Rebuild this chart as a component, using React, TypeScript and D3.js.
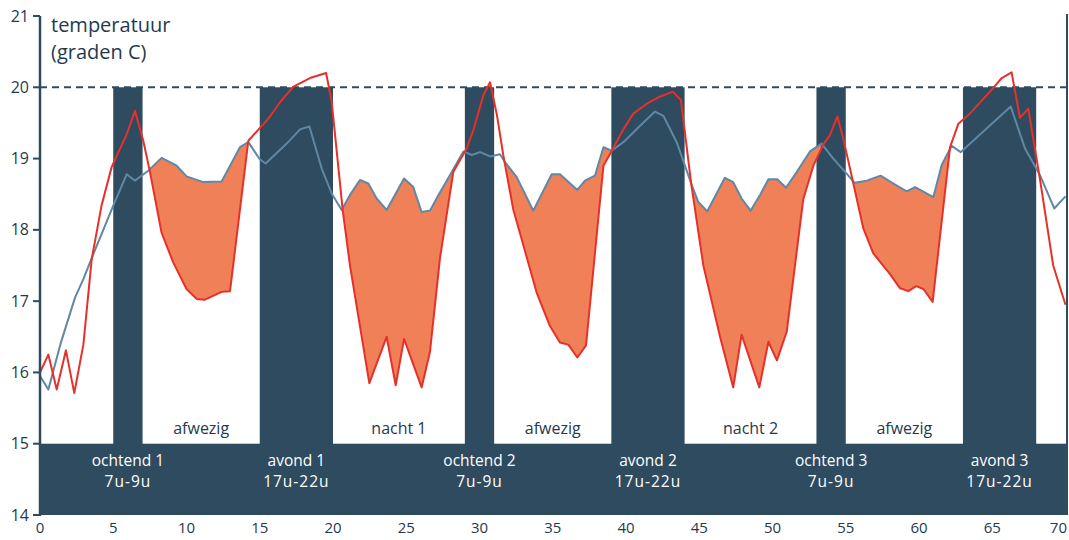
import React from 'react';
import * as d3 from 'd3';

const blueX = [0, 0.57, 1.4, 2.39, 2.96, 3.64, 5.0, 5.92, 6.48, 7.39, 8.3, 9.33, 10.0, 11.15, 12.4, 13.65, 14.22, 15.0, 15.4, 16.84, 17.75, 18.39, 19.23, 19.91, 20.59, 21.16, 21.84, 22.41, 22.98, 23.66, 24.23, 24.85, 25.48, 26.05, 26.62, 27.2, 27.99, 28.9, 29.47, 30.04, 30.72, 31.4, 31.74, 32.54, 33.67, 34.93, 35.49, 36.68, 37.2, 37.88, 38.46, 39.02, 39.82, 40.96, 41.98, 42.55, 43.46, 44.45, 44.94, 45.55, 46.75, 47.32, 47.89, 48.51, 49.15, 49.72, 50.33, 50.92, 51.65, 52.56, 53.35, 54.15, 55.06, 55.6, 56.43, 57.38, 58.25, 59.16, 59.73, 60.98, 61.55, 62.23, 62.84, 66.26, 67.24, 68.25, 69.23, 70];
const blueTemp = [15.95, 15.76, 16.4, 17.05, 17.31, 17.66, 18.34, 18.78, 18.69, 18.83, 19.01, 18.9, 18.75, 18.67, 18.68, 19.16, 19.23, 18.99, 18.93, 19.21, 19.41, 19.45, 18.86, 18.51, 18.28, 18.49, 18.7, 18.65, 18.44, 18.28, 18.49, 18.72, 18.6, 18.25, 18.27, 18.49, 18.77, 19.1, 19.05, 19.09, 19.03, 19.06, 18.95, 18.74, 18.27, 18.78, 18.78, 18.56, 18.69, 18.76, 19.16, 19.11, 19.23, 19.46, 19.66, 19.6, 19.23, 18.65, 18.39, 18.26, 18.73, 18.67, 18.44, 18.27, 18.49, 18.71, 18.71, 18.59, 18.81, 19.1, 19.21, 19.0, 18.79, 18.66, 18.69, 18.76, 18.65, 18.54, 18.6, 18.46, 18.91, 19.18, 19.09, 19.73, 19.14, 18.77, 18.3, 18.47];

const redX = [0, 0.57, 1.14, 1.77, 2.34, 2.96, 3.53, 4.2, 4.89, 5.35, 5.92, 6.48, 7.05, 7.51, 8.3, 9.1, 10.0, 10.7, 11.26, 12.4, 12.97, 14.22, 15.24, 15.7, 16.38, 17.3, 18.43, 19.53, 19.91, 20.66, 21.16, 22.48, 23.66, 24.28, 24.85, 26.05, 26.62, 27.3, 28.21, 29.12, 29.58, 30.27, 30.72, 31.2, 31.63, 32.3, 33.0, 33.9, 34.81, 35.49, 36.06, 36.68, 37.27, 38.46, 39.09, 39.82, 40.5, 41.42, 42.21, 43.2, 43.75, 44.45, 45.28, 46.42, 47.32, 47.89, 49.1, 49.72, 50.3, 50.97, 52.1, 52.79, 53.47, 53.92, 54.43, 54.83, 55.52, 56.2, 56.88, 58.02, 58.71, 59.28, 59.8, 60.3, 60.93, 62.12, 62.69, 63.37, 64.85, 65.65, 66.32, 66.89, 67.46, 68.25, 69.16, 70];
const redTemp = [16.0, 16.25, 15.76, 16.31, 15.71, 16.39, 17.59, 18.34, 18.88, 19.09, 19.34, 19.67, 19.25, 18.81, 17.96, 17.54, 17.17, 17.03, 17.02, 17.13, 17.14, 19.25, 19.48, 19.59, 19.79, 20.01, 20.13, 20.2, 19.8, 18.28, 17.5, 15.85, 16.5, 15.82, 16.47, 15.79, 16.29, 17.6, 18.81, 19.14, 19.4, 19.89, 20.07, 19.6, 19.04, 18.29, 17.78, 17.12, 16.65, 16.42, 16.39, 16.21, 16.38, 18.9, 19.13, 19.41, 19.63, 19.77, 19.86, 19.94, 19.82, 18.65, 17.5, 16.5, 15.79, 16.53, 15.79, 16.43, 16.17, 16.57, 18.43, 18.9, 19.2, 19.33, 19.59, 19.28, 18.65, 18.02, 17.67, 17.38, 17.18, 17.14, 17.21, 17.17, 16.99, 19.16, 19.49, 19.61, 19.94, 20.13, 20.21, 19.57, 19.7, 18.72, 17.5, 16.95];

// periods at home (dark bars)
const barStart = [5, 15, 29, 39, 53, 63];
const barEnd = [7, 20, 31, 44, 55, 68];
const barNames = ['ochtend 1', 'avond 1', 'ochtend 2', 'avond 2', 'ochtend 3', 'avond 3'];
const barHours = ['7u-9u', '17u-22u', '7u-9u', '17u-22u', '7u-9u', '17u-22u'];
const awayNames = ['afwezig', 'nacht 1', 'afwezig', 'nacht 2', 'afwezig'];

// stretches where the saving (red under blue) is shaded
const fillStart = [7.5, 20.62, 31.68, 44.45, 55.5];
const fillEnd = [14.22, 28.4, 39.05, 53.3, 62.15];

const yTicks = [14, 15, 16, 17, 18, 19, 20, 21];
const xTicks = [0, 5, 10, 15, 20, 25, 30, 35, 40, 45, 50, 55, 60, 65, 70];

const DARK = '#2e4b5f';
const TEXT = '#1f3a4f';
const BLUE = '#5f88a6';
const RED = '#e8302a';
const FILL = '#ef8057';
const FONT = '"Open Sans", sans-serif';

const App: React.FC = () => {
  const width = 1069;
  const height = 540;
  const x = d3.scaleLinear().domain([0, 70]).range([40, 1065.5]);
  const y = d3.scaleLinear().domain([14, 21]).range([515, 16]);
  const right = x(70) + 1.5;

  const blueAt = d3.scaleLinear().domain(blueX).range(blueTemp);
  const redAt = d3.scaleLinear().domain(redX).range(redTemp);

  const line = d3.line<[number, number]>()
    .x(d => x(d[0]))
    .y(d => y(d[1]));
  const bluePts = blueX.map((v, i) => [v, blueTemp[i]] as [number, number]);
  const redPts = redX.map((v, i) => [v, redTemp[i]] as [number, number]);

  const area = d3.area<number>()
    .x(d => x(d))
    .y0(d => y(redAt(d)))
    .y1(d => y(blueAt(d)));

  const fills = fillStart.map((a, i) => {
    const b = fillEnd[i];
    const xs = Array.from(new Set([a, ...blueX.filter(v => v > a && v < b), ...redX.filter(v => v > a && v < b), b]))
      .sort((p, q) => p - q);
    return area(xs) || '';
  });

  return (
    <svg width={width} height={height} style={{ position: 'absolute', left: 0, top: 0, background: '#fff' }}>
      {/* bottom band */}
      <rect x={x(0)} y={y(15)} width={right - x(0)} height={y(14) - y(15)} fill={DARK} />
      {/* at-home bars */}
      {barStart.map((s, i) => (
        <rect key={'b' + i} x={x(s)} y={y(20)} width={x(barEnd[i]) - x(s)} height={y(15) - y(20) + 1} fill={DARK} />
      ))}

      {/* shaded savings */}
      {fills.map((d, i) => (
        <path key={'f' + i} d={d} fill={FILL} stroke="none" />
      ))}

      {/* 20 degree setpoint */}
      <line x1={x(0)} x2={right} y1={y(20)} y2={y(20)} stroke={DARK} strokeWidth={2} strokeDasharray="7,5" />

      <path d={line(bluePts) || ''} fill="none" stroke={BLUE} strokeWidth={2} strokeLinejoin="round" />
      <path d={line(redPts) || ''} fill="none" stroke={RED} strokeWidth={2} strokeLinejoin="round" />

      {/* axes */}
      <line x1={x(0)} x2={x(0)} y1={y(21)} y2={y(14) + 1} stroke={DARK} strokeWidth={2.5} />
      <line x1={right} x2={right} y1={y(21) - 2} y2={y(14)} stroke={DARK} strokeWidth={2} />
      {yTicks.map(t => (
        <g key={'y' + t}>
          <line x1={x(0) - 7} x2={x(0)} y1={y(t)} y2={y(t)} stroke={DARK} strokeWidth={2} />
          <text x={29} y={y(t) + 5.5} textAnchor="end" fontFamily={FONT} fontSize={16} fill={TEXT}>{t}</text>
        </g>
      ))}
      {xTicks.map(t => (
        <text
          key={'x' + t}
          x={t === 70 ? width - 2 : x(t)}
          y={533}
          textAnchor={t === 70 ? 'end' : 'middle'}
          fontFamily={FONT}
          fontSize={15}
          fill={TEXT}
        >{t}</text>
      ))}

      {/* labels */}
      {barNames.map((n, i) => {
        const cx = x((barStart[i] + barEnd[i]) / 2);
        return (
          <g key={'l' + i} fontFamily={FONT} fontSize={15.5} fill="#ffffff" textAnchor="middle">
            <text x={cx} y={466}>{n}</text>
            <text x={cx} y={487} letterSpacing={1}>{barHours[i]}</text>
          </g>
        );
      })}
      {awayNames.map((n, i) => (
        <text
          key={'a' + i}
          x={x((barEnd[i] + barStart[i + 1]) / 2)}
          y={434}
          textAnchor="middle"
          fontFamily={FONT}
          fontSize={16}
          fill={TEXT}
        >{n}</text>
      ))}

      <text x={51} y={32} fontFamily={FONT} fontSize={20} fill={TEXT}>temperatuur</text>
      <text x={51} y={59} fontFamily={FONT} fontSize={20} fill={TEXT}>(graden C)</text>
    </svg>
  );
};

export default App;
